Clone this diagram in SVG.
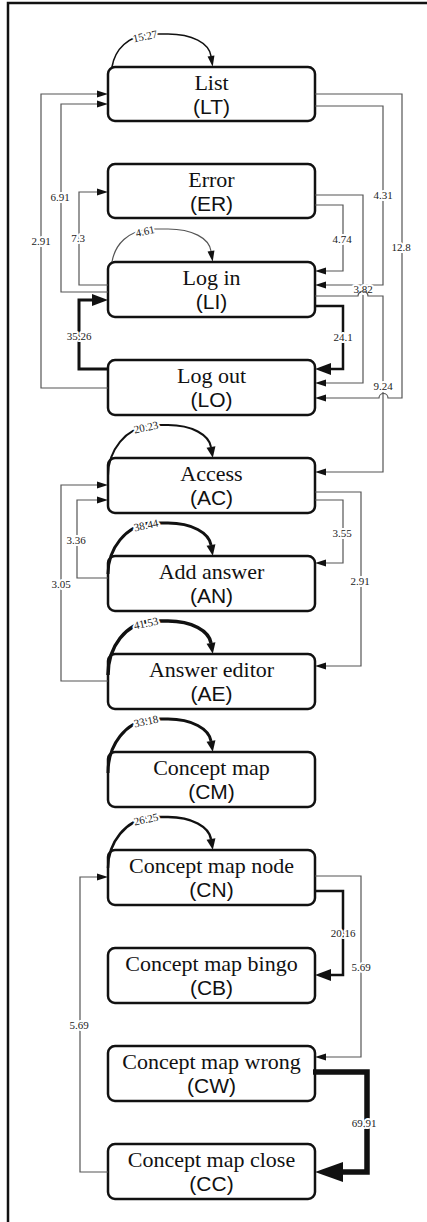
<svg xmlns="http://www.w3.org/2000/svg" width="427" height="1222" viewBox="0 0 427 1222">
<style>
.box{fill:#fff;stroke:#111;stroke-width:2.5}
.t1{font-family:"Liberation Serif",serif;font-size:22px;fill:#111;text-anchor:middle}
.t2{font-family:"Liberation Sans",sans-serif;font-size:21px;fill:#111;text-anchor:middle}
.e{fill:none;stroke:#555;stroke-width:1.2}
.k{fill:none;stroke:#111}
.lb{font-family:"Liberation Serif",serif;font-size:11px;fill:#222;text-anchor:middle;stroke:#fff;stroke-width:4;paint-order:stroke;stroke-linejoin:round}
.frame{fill:none;stroke:#111;stroke-width:2.5}
</style>
<defs>
<marker id="s" markerUnits="userSpaceOnUse" viewBox="0 -3.5 11 7" refX="0" refY="0" markerWidth="11" markerHeight="7" orient="auto" overflow="visible"><path d="M0,-3.5 L11,0 L0,3.5 z" fill="#111"/></marker>
<marker id="m" markerUnits="userSpaceOnUse" viewBox="0 -4.5 11 9" refX="0" refY="0" markerWidth="11" markerHeight="9" orient="auto" overflow="visible"><path d="M0,-4.5 L11,0 L0,4.5 z" fill="#111"/></marker>
<marker id="l" markerUnits="userSpaceOnUse" viewBox="0 -6 16 12" refX="0" refY="0" markerWidth="16" markerHeight="12" orient="auto" overflow="visible"><path d="M0,-6 L16,0 L0,6 z" fill="#111"/></marker>
<marker id="xl" markerUnits="userSpaceOnUse" viewBox="0 -10 28 20" refX="0" refY="0" markerWidth="28" markerHeight="20" orient="auto" overflow="visible"><path d="M0,-10 L28,0 L0,10 z" fill="#111"/></marker>
</defs>
<path class="frame" d="M8,1222 V3 H427"/>
<g id="nodes">
<g id="LT"><rect class="box" x="108" y="67" width="207" height="54" rx="7"/><text class="t1" x="211.5" y="90">List</text><text class="t2" x="211.5" y="114">(LT)</text></g>
<g id="ER"><rect class="box" x="108" y="164" width="207" height="54" rx="7"/><text class="t1" x="211.5" y="187">Error</text><text class="t2" x="211.5" y="211">(ER)</text></g>
<g id="LI"><rect class="box" x="108" y="262" width="207" height="55" rx="7"/><text class="t1" x="211.5" y="285">Log in</text><text class="t2" x="211.5" y="309">(LI)</text></g>
<g id="LO"><rect class="box" x="108" y="360" width="207" height="55" rx="7"/><text class="t1" x="211.5" y="383">Log out</text><text class="t2" x="211.5" y="407">(LO)</text></g>
<g id="AC"><rect class="box" x="108" y="458" width="207" height="55" rx="7"/><text class="t1" x="211.5" y="481">Access</text><text class="t2" x="211.5" y="505">(AC)</text></g>
<g id="AN"><rect class="box" x="108" y="556" width="207" height="55" rx="7"/><text class="t1" x="211.5" y="579">Add answer</text><text class="t2" x="211.5" y="603">(AN)</text></g>
<g id="AE"><rect class="box" x="108" y="654" width="207" height="55" rx="7"/><text class="t1" x="211.5" y="677">Answer editor</text><text class="t2" x="211.5" y="701">(AE)</text></g>
<g id="CM"><rect class="box" x="108" y="752" width="207" height="55" rx="7"/><text class="t1" x="211.5" y="775">Concept map</text><text class="t2" x="211.5" y="799">(CM)</text></g>
<g id="CN"><rect class="box" x="108" y="850" width="207" height="55" rx="7"/><text class="t1" x="211.5" y="873">Concept map node</text><text class="t2" x="211.5" y="897">(CN)</text></g>
<g id="CB"><rect class="box" x="108" y="948" width="207" height="55" rx="7"/><text class="t1" x="211.5" y="971">Concept map bingo</text><text class="t2" x="211.5" y="995">(CB)</text></g>
<g id="CW"><rect class="box" x="108" y="1046" width="207" height="55" rx="7"/><text class="t1" x="211.5" y="1069">Concept map wrong</text><text class="t2" x="211.5" y="1093">(CW)</text></g>
<g id="CC"><rect class="box" x="108" y="1144" width="207" height="55" rx="7"/><text class="t1" x="211.5" y="1167">Concept map close</text><text class="t2" x="211.5" y="1191">(CC)</text></g>
</g>
<g id="connectors">
<!-- self loops -->
<path class="k" stroke-width="1.6" marker-end="url(#s)" d="M112,67 C115,49 128,36 150,34 L168,34 C192,34 209,43 211,56"/>
<text class="lb" x="145" y="40" transform="rotate(-12 145 36)">15.27</text>
<path class="e" marker-end="url(#s)" d="M112,262 C115,244 128,231 150,229 L168,229 C192,229 209,238 211,251"/>
<text class="lb" x="145" y="235" transform="rotate(-12 145 231)">4.61</text>
<path class="k" stroke-width="2" marker-end="url(#m)" d="M108,476 C108,450 126,428 150,425 L168,425 C192,425 209,435 211,447"/>
<text class="lb" x="146" y="431" transform="rotate(-12 146 427)">20.23</text>
<path class="k" stroke-width="3" marker-end="url(#m)" d="M108,574 C108,548 126,526 150,523 L168,523 C192,523 209,533 211,545"/>
<text class="lb" x="146" y="529" transform="rotate(-12 146 525)">38.44</text>
<path class="k" stroke-width="3.5" marker-end="url(#m)" d="M108,675 C108,646 126,624 150,621 L168,621 C192,621 209,631 211,643"/>
<text class="lb" x="146" y="627" transform="rotate(-12 146 623)">41.53</text>
<path class="k" stroke-width="3" marker-end="url(#m)" d="M108,773 C108,744 126,722 150,719 L168,719 C192,719 209,729 211,741"/>
<text class="lb" x="146" y="725" transform="rotate(-12 146 721)">33.18</text>
<path class="k" stroke-width="2.5" marker-end="url(#m)" d="M108,868 C108,842 126,820 150,817 L168,817 C192,817 209,827 211,839"/>
<text class="lb" x="146" y="823" transform="rotate(-12 146 819)">26.25</text>
<!-- left side -->
<path class="e" marker-end="url(#s)" d="M108,388 H41 V94 H97"/>
<text class="lb" x="41" y="245">2.91</text>
<path class="e" marker-end="url(#s)" d="M108,292 H61 V104 H97"/>
<text class="lb" x="60" y="201">6.91</text>
<path class="e" marker-end="url(#s)" d="M108,285 H79 V192 H97"/>
<text class="lb" x="78" y="242">7.3</text>
<path class="k" stroke-width="3" marker-end="url(#l)" d="M108,369 H79 V300 H92"/>
<text class="lb" x="79" y="340">35.26</text>
<!-- right side -->
<path class="e" marker-end="url(#s)" d="M315,94 H402 V398 H388 A4.5,4.5 0 0 0 379,398 H326"/>
<text class="lb" x="401" y="251">12.8</text>
<path class="e" marker-end="url(#s)" d="M315,106 H383 V285 H326"/>
<text class="lb" x="383" y="199">4.31</text>
<path class="e" marker-end="url(#s)" d="M315,205 H343 V271 H326"/>
<text class="lb" x="342" y="243">4.74</text>
<path class="e" marker-end="url(#s)" d="M315,195 H363 V383 H326"/>
<text class="lb" x="363" y="293">3.82</text>
<path class="k" stroke-width="2.5" marker-end="url(#l)" d="M315,306 H343 V369 H331"/>
<text class="lb" x="343" y="341">24.1</text>
<path class="e" marker-end="url(#s)" d="M315,296 H358 A5,5 0 0 1 368,296 H383 V472 H326"/>
<text class="lb" x="383" y="390">9.24</text>
<!-- access block -->
<path class="e" marker-end="url(#s)" d="M108,578 H77 V500 H97"/>
<text class="lb" x="76" y="544">3.36</text>
<path class="e" marker-end="url(#s)" d="M108,681 H61 V485 H97"/>
<text class="lb" x="61" y="588">3.05</text>
<path class="e" marker-end="url(#s)" d="M315,500 H343 V563 H326"/>
<text class="lb" x="342" y="537">3.55</text>
<path class="e" marker-end="url(#s)" d="M315,492 H361 V666 H326"/>
<text class="lb" x="360" y="585">2.91</text>
<!-- concept map block -->
<path class="k" stroke-width="2.5" marker-end="url(#l)" d="M315,891 H343 V975 H331"/>
<text class="lb" x="343" y="937">20.16</text>
<path class="e" marker-end="url(#s)" d="M315,876 H361 V1057 H326"/>
<text class="lb" x="361" y="971">5.69</text>
<path class="k" stroke-width="5.5" marker-end="url(#xl)" d="M313,1072 H367 V1172 H343"/>
<text class="lb" x="364" y="1127">69.91</text>
<path class="e" marker-end="url(#s)" d="M108,1172 H80 V877 H97"/>
<text class="lb" x="79" y="1029">5.69</text>
</g>
</svg>
